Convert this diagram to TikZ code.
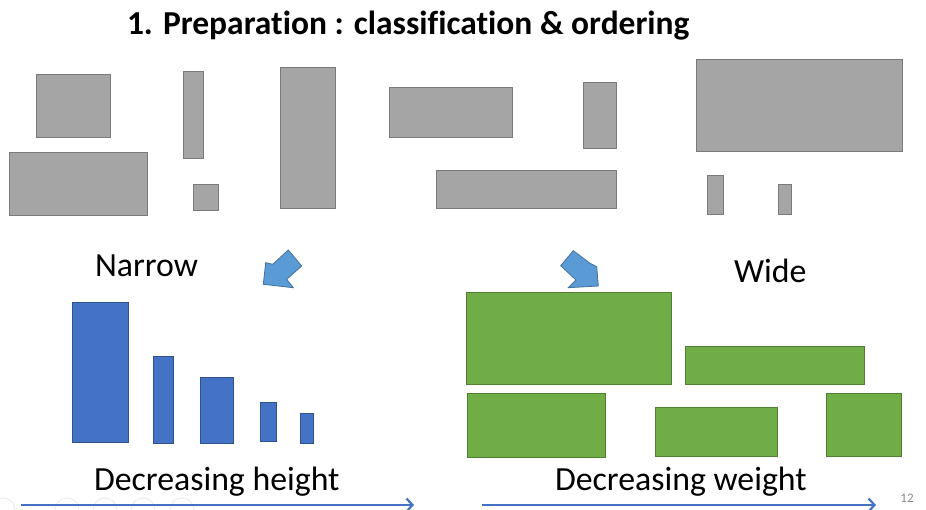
\documentclass[tikz,border=0pt]{standalone}
\usepackage{fontspec}
\setmainfont{Carlito}[Ligatures={NoCommon}]
\usetikzlibrary{arrows.meta}
\definecolor{grayfill}{HTML}{A5A5A5}
\definecolor{grayline}{HTML}{7A7A7A}
\definecolor{bluefill}{HTML}{4472C4}
\definecolor{blueline}{HTML}{2F528F}
\definecolor{greenfill}{HTML}{70AD47}
\definecolor{greenline}{HTML}{507E32}
\definecolor{arrfill}{HTML}{5B9BD5}
\definecolor{arrline}{HTML}{41719C}
\definecolor{axisblue}{HTML}{4472C4}
\definecolor{pagegray}{HTML}{898989}
\tikzset{
  box/.style={draw, line width=1pt, inner sep=0pt, outer sep=0pt, anchor=north west},
  graybox/.style={box, fill=grayfill, draw=grayline},
  bluebox/.style={box, fill=bluefill, draw=blueline},
  greenbox/.style={box, fill=greenfill, draw=greenline},
  blockarrow/.style={fill=arrfill, draw=arrline, line width=0.8pt, line join=miter},
  axisarrow/.style={draw=axisblue, line width=2.2pt, -{Straight Barb[length=6pt,width=13pt,line width=2.2pt]}},
  label/.style={inner sep=0pt, outer sep=0pt, anchor=base west, font=\fontsize{33.8}{40}\selectfont},
  titletext/.style={inner sep=0pt, outer sep=0pt, anchor=base west, font=\bfseries\fontsize{33.5}{40}\selectfont},
  navcircle/.style={draw=gray!18, line width=0.8pt}
}
\newcommand\rbox[6]{\node[#6, minimum width={(#4-#2)*1pt}, minimum height={(#5-#3)*1pt}] (#1) at (#2,#3) {};}
\begin{document}
\begin{tikzpicture}[x=1pt,y=-1pt]
\useasboundingbox[fill=white] (0,0) rectangle (926,510);
% title
\node[titletext] (title) at (127,35) {1. Preparation : classification \& ordering};
% gray unsorted rectangles
\rbox{ga}{36.3}{74.3}{110.3}{137.3}{graybox}
\rbox{gb}{9.3}{152.3}{147.7}{215.3}{graybox}
\rbox{gc}{183.3}{71.3}{203.3}{158.3}{graybox}
\rbox{gd}{193.3}{184.3}{218.3}{210.3}{graybox}
\rbox{ge}{280.3}{67.3}{335.3}{208.3}{graybox}
\rbox{gf}{389.5}{87.3}{512}{137.3}{graybox}
\rbox{gg}{583}{82.3}{616}{148.3}{graybox}
\rbox{gh}{436.5}{170.3}{616}{208.3}{graybox}
\rbox{gi}{696}{59.3}{902}{151.3}{graybox}
\rbox{gj}{707}{175.3}{723}{214.3}{graybox}
\rbox{gk}{778}{184.3}{791}{214.3}{graybox}
% block arrows
\draw[blockarrow] (263.3,284.3) -- (265.7,262.7) -- (272.7,264.3) -- (288.3,250) -- (301.7,266) -- (286.7,279.3) -- (293.3,287.7) -- cycle;
\draw[blockarrow] (598.3,286) -- (596.7,266.7) -- (590,263.3) -- (573.3,250.7) -- (560.7,265.7) -- (576,280) -- (568.3,287.7) -- cycle;
% labels
\node[label] (narrow) at (95,277) {Narrow};
\node[label] (wide) at (734,283) {Wide};
% blue sorted bars
\rbox{b1}{72.3}{302.3}{128.7}{442.3}{bluebox}
\rbox{b2}{153.3}{356.3}{173.7}{443.7}{bluebox}
\rbox{b3}{200.3}{377.3}{233.3}{443.7}{bluebox}
\rbox{b4}{260.3}{402.3}{276.7}{441.3}{bluebox}
\rbox{b5}{300.3}{413.3}{313.7}{443.7}{bluebox}
% green sorted rectangles
\rbox{c1}{466.3}{292.3}{671.7}{384.3}{greenbox}
\rbox{c2}{685.3}{346.3}{864.7}{384.3}{greenbox}
\rbox{c3}{467.3}{393.3}{605.7}{457.3}{greenbox}
\rbox{c4}{655.3}{407.3}{777.7}{456.3}{greenbox}
\rbox{c5}{826.3}{393.3}{901.7}{456.3}{greenbox}
% bottom captions
\node[label] (dech) at (94,490) {Decreasing height};
\node[label] (decw) at (555,490) {Decreasing weight};
% faint navigation circles
\foreach \cx in {3,67,105,143,182} {
  \draw[navcircle] (\cx,510) circle[radius=12];
}
% axis arrows
\coordinate (hl) at (20.7,505);
\coordinate (hr) at (414,505);
\coordinate (wl) at (481.7,505);
\coordinate (wr) at (876,505);
\draw[axisarrow] (hl) -- (hr);
\draw[axisarrow] (wl) -- (wr);
% page number
\node[inner sep=0pt, text=pagegray, font=\fontsize{13}{15}\selectfont] (page) at (907,498) {12};
\end{tikzpicture}
\end{document}
